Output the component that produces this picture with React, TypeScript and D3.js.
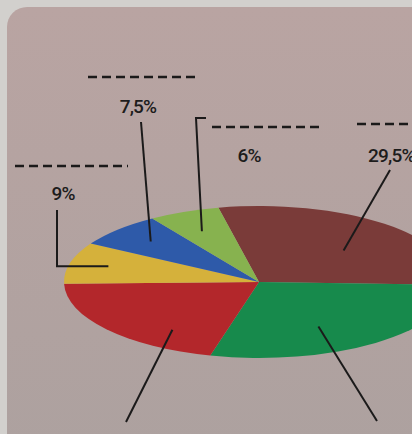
import React from "react";
import * as d3 from "d3";

const slices = ["Braun", "Dunkelgrün", "Rot", "Gelb", "Blau", "Hellgrün"];
const values = [29.5, 29, 21, 9, 7.5, 6];
const labels = ["29,5%", "", "", "9%", "7,5%", "6%"];
const colors = ["#7a3b39", "#178a4c", "#b3272b", "#d5b13b", "#2e5aa9", "#87b24f"];

// layout of the hand drawn leaders (frac = position inside slice, k = radius share)
const leaders = [
  { frac: 0.56, k: 0.6, kind: "line", end: [390, 170] },
  { frac: 0.59, k: 0.66, kind: "line", end: [377, 421] },
  { frac: 0.28, k: 0.77, kind: "line", end: [126, 422] },
  { frac: 0.52, k: 0.8, kind: "L", end: [57, 210] },
  { frac: 0.51, k: 0.77, kind: "line", end: [141, 122] },
  { frac: 0.45, k: 0.73, kind: "bracket", end: [196, 118] },
];
const labelPos = [
  { x: 368, y: 162, anchor: "start", dash: [357, 420, 124] },
  null,
  null,
  { x: 63, y: 200, anchor: "middle", dash: [15, 128, 166] },
  { x: 138, y: 113, anchor: "middle", dash: [88, 198, 77] },
  { x: 249, y: 162, anchor: "middle", dash: [212, 322, 127] },
];

export default function App() {
  const W = 412;
  const H = 434;
  const cx = 259;
  const cy = 282;
  const rx = 195;
  const ry = 76;
  const ratio = ry / rx;

  // the drawing starts a little left of twelve o'clock
  const start = (-12 * Math.PI) / 180;
  const pie = d3
    .pie<number>()
    .sort(null)
    .startAngle(start)
    .endAngle(start + 2 * Math.PI);
  const arcs = pie(values);
  const arc = d3.arc<d3.PieArcDatum<number>>().innerRadius(0).outerRadius(rx);

  const pt = (a: number, r: number) => [cx + r * Math.sin(a), cy - r * Math.cos(a) * ratio];

  const leaderPaths = arcs.map((d, i) => {
    const l = leaders[i];
    const a = d.startAngle + (d.endAngle - d.startAngle) * l.frac;
    const [x0, y0] = pt(a, rx * l.k);
    const [ex, ey] = l.end;
    let pts: number[][];
    if (l.kind === "L") pts = [[x0, y0], [ex, y0], [ex, ey]];
    else if (l.kind === "bracket") pts = [[x0, y0], [ex, ey], [ex + 10, ey]];
    else pts = [[x0, y0], [ex, ey]];
    return d3.line()(pts as [number, number][]);
  });

  return (
    <svg
      width={W}
      height={H}
      style={{ position: "absolute", left: 0, top: 0 }}
      fontFamily="Roboto, 'Liberation Sans', Arial, sans-serif"
    >
      <defs>
        <linearGradient id="card" x1="0" y1="0" x2="0" y2="1">
          <stop offset="0" stopColor="#b9a4a2" />
          <stop offset="1" stopColor="#aca19f" />
        </linearGradient>
      </defs>
      <rect width={W} height={H} fill="#d2d0cd" />
      <rect x={7} y={7} width={W + 40} height={H + 40} rx={20} fill="url(#card)" />

      <g transform={`translate(${cx},${cy}) scale(1,${ratio})`}>
        {arcs.map((d, i) => (
          <path key={slices[i]} d={arc(d) ?? ""} fill={colors[i]} />
        ))}
      </g>

      {leaderPaths.map((p, i) => (
        <path key={i} d={p ?? ""} fill="none" stroke="#1b1a1a" strokeWidth={2} />
      ))}

      {labelPos.map((lp, i) =>
        lp ? (
          <g key={i}>
            <line
              x1={lp.dash[0]}
              x2={lp.dash[1]}
              y1={lp.dash[2]}
              y2={lp.dash[2]}
              stroke="#1b1a1a"
              strokeWidth={2.5}
              strokeDasharray="9 5"
            />
            <text
              x={lp.x}
              y={lp.y}
              textAnchor={lp.anchor}
              fontSize={19}
              fontWeight={500}
              fill="#1d1c1c"
              letterSpacing={-0.8}
            >
              {labels[i]}
            </text>
          </g>
        ) : null
      )}
    </svg>
  );
}
